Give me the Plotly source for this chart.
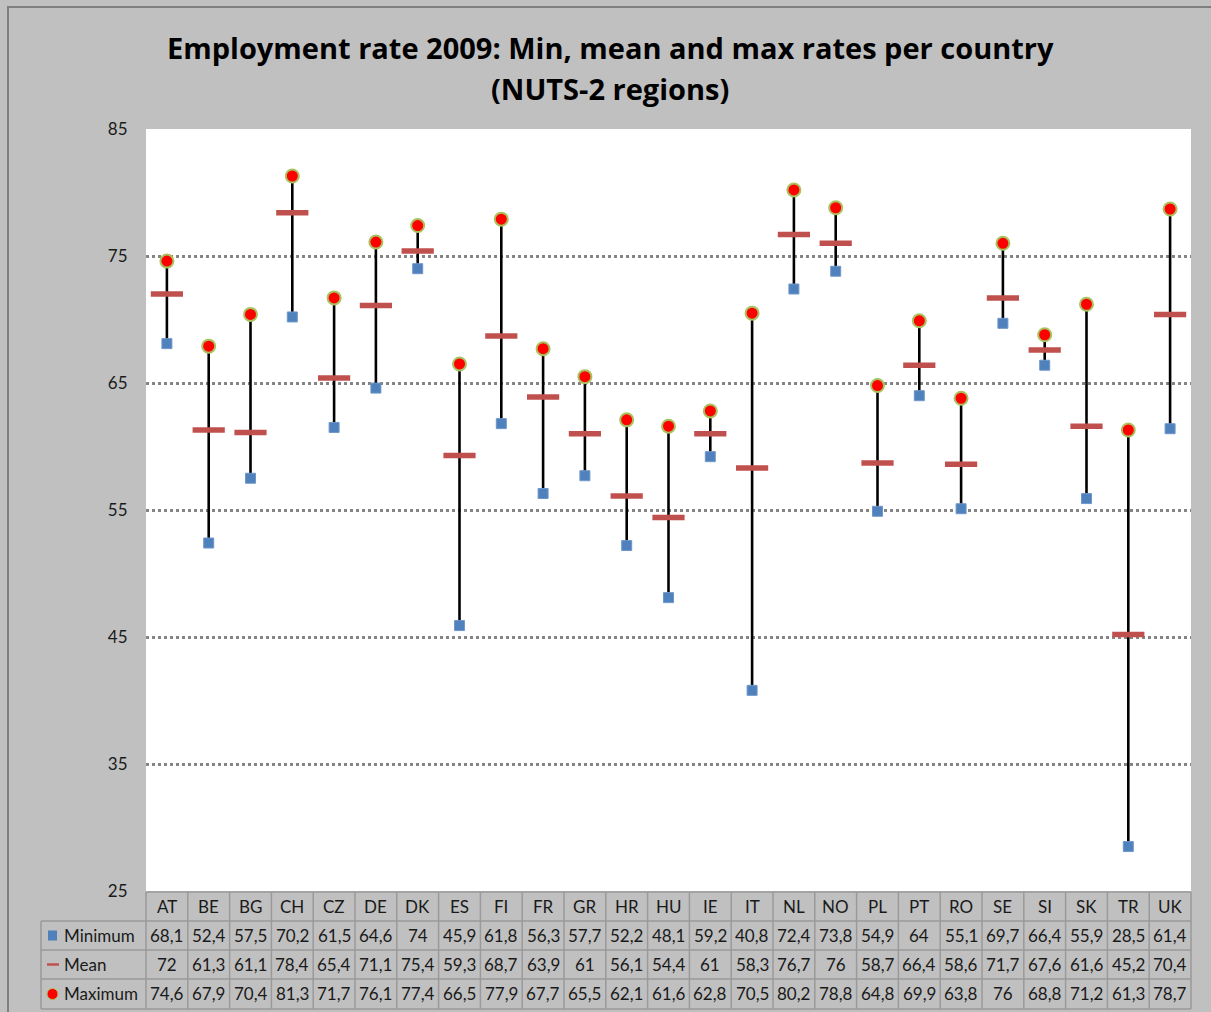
import plotly.graph_objects as go

countries = ["AT", "BE", "BG", "CH", "CZ", "DE", "DK", "ES", "FI", "FR", "GR", "HR", "HU",
             "IE", "IT", "NL", "NO", "PL", "PT", "RO", "SE", "SI", "SK", "TR", "UK"]
minimum = [68.1, 52.4, 57.5, 70.2, 61.5, 64.6, 74, 45.9, 61.8, 56.3, 57.7, 52.2, 48.1,
           59.2, 40.8, 72.4, 73.8, 54.9, 64, 55.1, 69.7, 66.4, 55.9, 28.5, 61.4]
mean = [72, 61.3, 61.1, 78.4, 65.4, 71.1, 75.4, 59.3, 68.7, 63.9, 61, 56.1, 54.4,
        61, 58.3, 76.7, 76, 58.7, 66.4, 58.6, 71.7, 67.6, 61.6, 45.2, 70.4]
maximum = [74.6, 67.9, 70.4, 81.3, 71.7, 76.1, 77.4, 66.5, 77.9, 67.7, 65.5, 62.1, 61.6,
           62.8, 70.5, 80.2, 78.8, 64.8, 69.9, 63.8, 76, 68.8, 71.2, 61.3, 78.7]
series_names = ["Minimum", "Mean", "Maximum"]
y_ticks = [25, 35, 45, 55, 65, 75, 85]
title_lines = ["Employment rate 2009: Min, mean and max rates per country", "(NUTS-2 regions)"]

W, H = 1211, 1012
L, R, T, B = 146, 1191, 129, 891
n = len(countries)

BG = "#c0c0c0"
FONT = "Lato, 'Open Sans', sans-serif"
TFONT = "'Open Sans', Lato, sans-serif"
BLUE = "#4f81bd"
MEANC = "#c0504d"
MAXC = "#ff0000"
MAXLINE = "#a9c25e"
GRIDC = "#858585"
TABLEC = "#9a9a9a"


def fmt(v):
    return f"{v:g}".replace(".", ",")


def py(pix):  # pixel y -> paper y
    return (B - pix) / (B - T)


def px(pix):  # pixel x -> paper x
    return (pix - L) / (R - L)


fig = go.Figure()

# vertical range lines
lx, ly = [], []
for c, lo, hi in zip(countries, minimum, maximum):
    lx += [c, c, None]
    ly += [lo, hi, None]
fig.add_trace(go.Scatter(x=lx, y=ly, mode="lines", line=dict(color="black", width=2.6),
                         hoverinfo="skip", showlegend=False))

fig.add_trace(go.Scatter(x=countries, y=minimum, mode="markers", name="Minimum",
                         marker=dict(symbol="square", size=10, color=BLUE,
                                     line=dict(color="#6f97c9", width=1))))
fig.add_trace(go.Scatter(x=countries, y=mean, mode="markers", name="Mean",
                         marker=dict(symbol="line-ew", size=23, color=MEANC,
                                     line=dict(color=MEANC, width=5.5))))
fig.add_trace(go.Scatter(x=countries, y=maximum, mode="markers", name="Maximum",
                         marker=dict(symbol="circle", size=13, color=MAXC,
                                     line=dict(color=MAXLINE, width=2))))

shapes = []
annotations = []

# outer border
shapes.append(dict(type="rect", xref="paper", yref="paper",
                   x0=px(8), x1=px(1216), y0=py(1017), y1=py(7),
                   line=dict(color="#7f7f7f", width=2), fillcolor="rgba(0,0,0,0)", layer="below"))

# title
for k, (txt, ypix) in enumerate(zip(title_lines, [47, 88])):
    annotations.append(dict(x=px(610), y=py(ypix), xref="paper", yref="paper",
                            text="<b>" + txt + "</b>", showarrow=False,
                            font=dict(family=TFONT, size=29, color="black"),
                            xanchor="center", yanchor="middle"))

# table geometry
row_lines = [892, 921, 950, 979, 1009]
legend_left = 41
# horizontal lines
shapes.append(dict(type="line", xref="paper", yref="paper", x0=px(L), x1=px(R),
                   y0=py(row_lines[0]), y1=py(row_lines[0]), line=dict(color=TABLEC, width=1.5)))
for rl in row_lines[1:]:
    shapes.append(dict(type="line", xref="paper", yref="paper", x0=px(legend_left), x1=px(R),
                       y0=py(rl), y1=py(rl), line=dict(color=TABLEC, width=1.5)))
# vertical lines
shapes.append(dict(type="line", xref="paper", yref="paper", x0=px(legend_left), x1=px(legend_left),
                   y0=py(row_lines[1]), y1=py(row_lines[-1]), line=dict(color=TABLEC, width=1.5)))
for i in range(n + 1):
    xp = i / n
    shapes.append(dict(type="line", xref="paper", yref="paper", x0=xp, x1=xp,
                       y0=py(row_lines[0]), y1=py(row_lines[-1]), line=dict(color=TABLEC, width=1.5)))

row_centers = [(row_lines[k] + row_lines[k + 1]) / 2 for k in range(4)]
tfont = dict(family=FONT, size=17, color="#1a1a1a")
for i, c in enumerate(countries):
    annotations.append(dict(x=c, y=py(row_centers[0]), xref="x", yref="paper", text=c,
                            showarrow=False, font=tfont, xanchor="center", yanchor="middle"))
    for k, arr in enumerate([minimum, mean, maximum]):
        annotations.append(dict(x=c, y=py(row_centers[k + 1]), xref="x", yref="paper",
                                text=fmt(arr[i]), showarrow=False, font=tfont,
                                xanchor="center", yanchor="middle"))

# legend column
for k, name in enumerate(series_names):
    annotations.append(dict(x=px(62), y=py(row_centers[k + 1]), xref="paper", yref="paper",
                            text=name, showarrow=False, font=tfont,
                            xanchor="left", yanchor="middle"))
yc = row_centers[1]
shapes.append(dict(type="rect", xref="paper", yref="paper", x0=px(48), x1=px(57),
                   y0=py(yc + 5), y1=py(yc - 5), fillcolor=BLUE, line=dict(width=0)))
yc = row_centers[2]
shapes.append(dict(type="line", xref="paper", yref="paper", x0=px(47), x1=px(59),
                   y0=py(yc), y1=py(yc), line=dict(color=MEANC, width=2.5)))
yc = row_centers[3]
shapes.append(dict(type="circle", xref="paper", yref="paper", x0=px(47), x1=px(58),
                   y0=py(yc + 5.5), y1=py(yc - 5.5), fillcolor=MAXC,
                   line=dict(color=MAXLINE, width=1)))

fig.update_layout(
    width=W, height=H,
    margin=dict(l=L, r=W - R, t=T, b=H - B),
    paper_bgcolor=BG, plot_bgcolor="white",
    font=dict(family=FONT, size=16, color="#1a1a1a"),
    showlegend=False,
    xaxis=dict(type="category", categoryorder="array", categoryarray=countries,
               range=[-0.5, n - 0.5], showticklabels=False, showgrid=False, zeroline=False,
               showline=False, ticks=""),
    yaxis=dict(range=[25, 85], tickvals=y_ticks, ticktext=[str(v) for v in y_ticks],
               showgrid=True, gridcolor=GRIDC, gridwidth=3, griddash="dot",
               zeroline=False, showline=False, ticks="outside", ticklen=14,
               tickcolor="rgba(0,0,0,0)", tickfont=dict(family=FONT, size=17, color="#1a1a1a")),
    shapes=shapes,
    annotations=annotations,
)

fig.write_html("out.html")
